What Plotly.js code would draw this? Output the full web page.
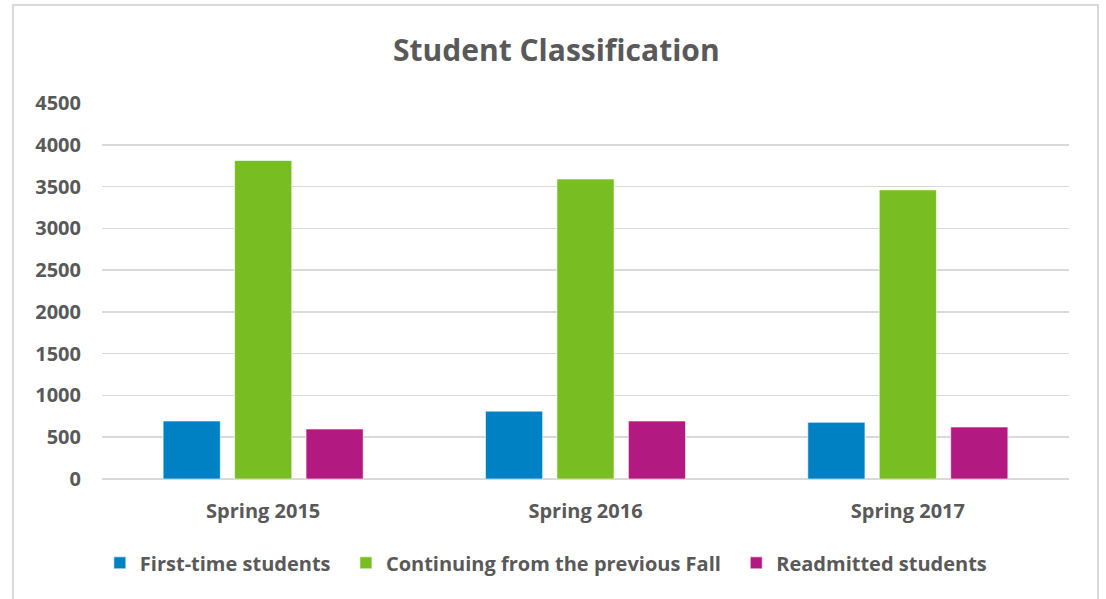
<!DOCTYPE html>
<html>
<head>
<meta charset="utf-8">
<script src="https://cdn.plot.ly/plotly-3.0.1.min.js"></script>
<style>
html,body{margin:0;padding:0;background:#fff;}
#wrap{position:relative;width:1106px;height:599px;}
#chart{width:1106px;height:599px;}
#frame{position:absolute;left:12px;top:4px;width:1083px;height:620px;border:2px solid #d9d9d9;pointer-events:none;}
</style>
</head>
<body>
<div id="wrap"><div id="chart"></div><div id="frame"></div></div>
<script>
const categories = ["Spring 2015", "Spring 2016", "Spring 2017"];
const seriesNames = ["First-time students", "Continuing from the previous Fall", "Readmitted students"];
const firstTime = [694, 812, 678];
const continuing = [3812, 3590, 3460];
const readmitted = [598, 694, 622];
const colors = ["#0081C3", "#78BD22", "#B21A82"];
const yTicks = [0, 500, 1000, 1500, 2000, 2500, 3000, 3500, 4000, 4500];

const font = "'Open Sans', 'DejaVu Sans', sans-serif";
const txt = "#595959";
const values = [firstTime, continuing, readmitted];
const traces = values.map((v, i) => ({
  type: "bar",
  name: "<b>" + seriesNames[i] + "</b>" + (i < seriesNames.length - 1 ? "\u00a0\u00a0" : ""),
  x: categories,
  y: v,
  marker: {color: colors[i], line: {color: "rgba(255,255,255,0.6)", width: 1}},
  hoverinfo: "x+y+name"
}));

const layout = {
  width: 1106, height: 599,
  margin: {l: 102, r: 37, t: 103, b: 120},
  paper_bgcolor: "#fff", plot_bgcolor: "#fff",
  title: {text: "<b>Student Classification</b>", x: 0.503, xanchor: "center", y: 0.915, yanchor: "middle",
          font: {family: font, size: 30, color: txt}},
  barmode: "group", bargap: 0.335, bargroupgap: 0.2,
  xaxis: {tickvals: categories, ticktext: categories.map(c => "<b>" + c + "</b>"),
          tickfont: {family: font, size: 20, color: txt}, showline: false, ticks: "", showgrid: false,
          ticklabelstandoff: 18},
  yaxis: {range: [0, 4500], tickvals: yTicks, ticktext: yTicks.map(t => "<b>" + t + "</b>"),
          tickfont: {family: font, size: 20, color: txt},
          showgrid: true, gridcolor: "#d9d9d9", gridwidth: 1.5, zeroline: true, zerolinecolor: "#d9d9d9", zerolinewidth: 1.5,
          ticks: "", ticklen: 0, showline: false, automargin: false, ticklabelstandoff: 20},
  legend: {orientation: "h", x: 0.459, xanchor: "center", y: -0.223, yanchor: "middle",
           font: {family: font, size: 20, color: txt}, itemwidth: 30, traceorder: "normal"},
  showlegend: true
};

Plotly.newPlot("chart", traces, layout, {displayModeBar: false, staticPlot: true});
</script>
</body>
</html>
